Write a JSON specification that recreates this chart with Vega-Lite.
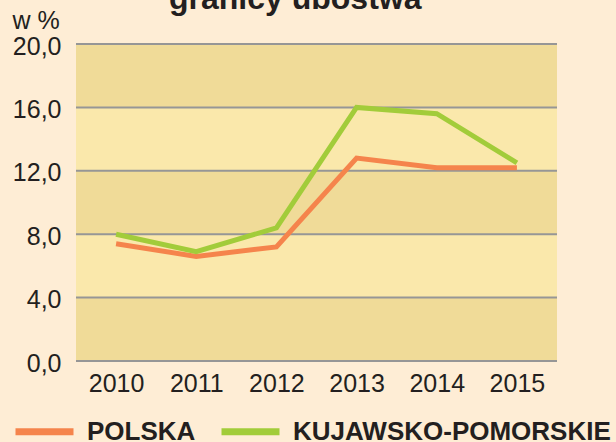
{
  "$schema": "https://vega.github.io/schema/vega-lite/v6.json",
  "width": 481,
  "height": 317,
  "autosize": {"type": "none"},
  "padding": {"left": 76, "top": 44, "right": 59, "bottom": 81},
  "background": "#feedd5",
  "config": {
    "view": {"fill": "#fae8ab", "stroke": null},
    "font": "Liberation Sans"
  },
  "title": {
    "text": "granicy ubóstwa",
    "anchor": "start",
    "frame": "group",
    "dx": 93,
    "dy": 33,
    "offset": 0,
    "fontSize": 32,
    "fontWeight": "bold",
    "color": "#231f20",
    "baseline": "alphabetic"
  },
  "datasets": {
    "bands": [
      {"lo": 0, "hi": 4},
      {"lo": 8, "hi": 12},
      {"lo": 16, "hi": 20}
    ],
    "series": [
      {"year": "2010", "region": "POLSKA", "value": 7.4},
      {"year": "2011", "region": "POLSKA", "value": 6.6},
      {"year": "2012", "region": "POLSKA", "value": 7.2},
      {"year": "2013", "region": "POLSKA", "value": 12.8},
      {"year": "2014", "region": "POLSKA", "value": 12.2},
      {"year": "2015", "region": "POLSKA", "value": 12.2},
      {"year": "2010", "region": "KUJAWSKO-POMORSKIE", "value": 8.0},
      {"year": "2011", "region": "KUJAWSKO-POMORSKIE", "value": 6.9},
      {"year": "2012", "region": "KUJAWSKO-POMORSKIE", "value": 8.4},
      {"year": "2013", "region": "KUJAWSKO-POMORSKIE", "value": 16.0},
      {"year": "2014", "region": "KUJAWSKO-POMORSKIE", "value": 15.6},
      {"year": "2015", "region": "KUJAWSKO-POMORSKIE", "value": 12.5}
    ]
  },
  "layer": [
    {
      "data": {"name": "bands"},
      "mark": {"type": "rect", "fill": "#f0db98"},
      "encoding": {
        "y": {
          "field": "lo",
          "type": "quantitative",
          "scale": {"domain": [0, 20]},
          "axis": {
            "values": [0, 4, 8, 12, 16, 20],
            "labelExpr": "replace(format(datum.value, '.1f'), '.', ',')",
            "domain": false,
            "ticks": false,
            "tickSize": 0,
            "grid": false,
            "labelPadding": 15,
            "labelOffset": 2,
            "labelFontSize": 25,
            "labelColor": "#231f20",
            "title": "w %",
            "titleAngle": 0,
            "titleX": -64,
            "titleY": -16,
            "titleAlign": "left",
            "titleBaseline": "alphabetic",
            "titleFontSize": 25,
            "titleFontWeight": "normal",
            "titleColor": "#231f20"
          }
        },
        "y2": {"field": "hi"}
      }
    },
    {
      "data": {"name": "bands"},
      "mark": {"type": "rule", "stroke": "#969696", "strokeWidth": 2},
      "encoding": {"y": {"field": "lo", "type": "quantitative"}}
    },
    {
      "data": {"name": "bands"},
      "mark": {"type": "rule", "stroke": "#969696", "strokeWidth": 2},
      "encoding": {"y": {"field": "hi", "type": "quantitative"}}
    },
    {
      "data": {"name": "series"},
      "mark": {"type": "line", "strokeWidth": 5},
      "encoding": {
        "x": {
          "field": "year",
          "type": "ordinal",
          "axis": {
            "labelAngle": 0,
            "domain": false,
            "ticks": false,
            "tickSize": 0,
            "grid": false,
            "labelPadding": 10,
            "labelFontSize": 25,
            "labelColor": "#231f20",
            "title": null
          }
        },
        "y": {"field": "value", "type": "quantitative"},
        "stroke": {
          "field": "region",
          "type": "nominal",
          "scale": {
            "domain": ["POLSKA", "KUJAWSKO-POMORSKIE"],
            "range": ["#f5844c", "#a2cc3a"]
          },
          "legend": {
            "orient": "none",
            "legendX": -64,
            "legendY": 355,
            "direction": "horizontal",
            "title": null,
            "symbolType": "stroke",
            "symbolSize": 3364,
            "symbolStrokeWidth": 7,
            "labelFontSize": 26,
            "labelFontWeight": "bold",
            "labelColor": "#231f20",
            "labelOffset": 10,
            "columnPadding": 11,
            "labelLimit": 400
          }
        }
      }
    }
  ]
}
